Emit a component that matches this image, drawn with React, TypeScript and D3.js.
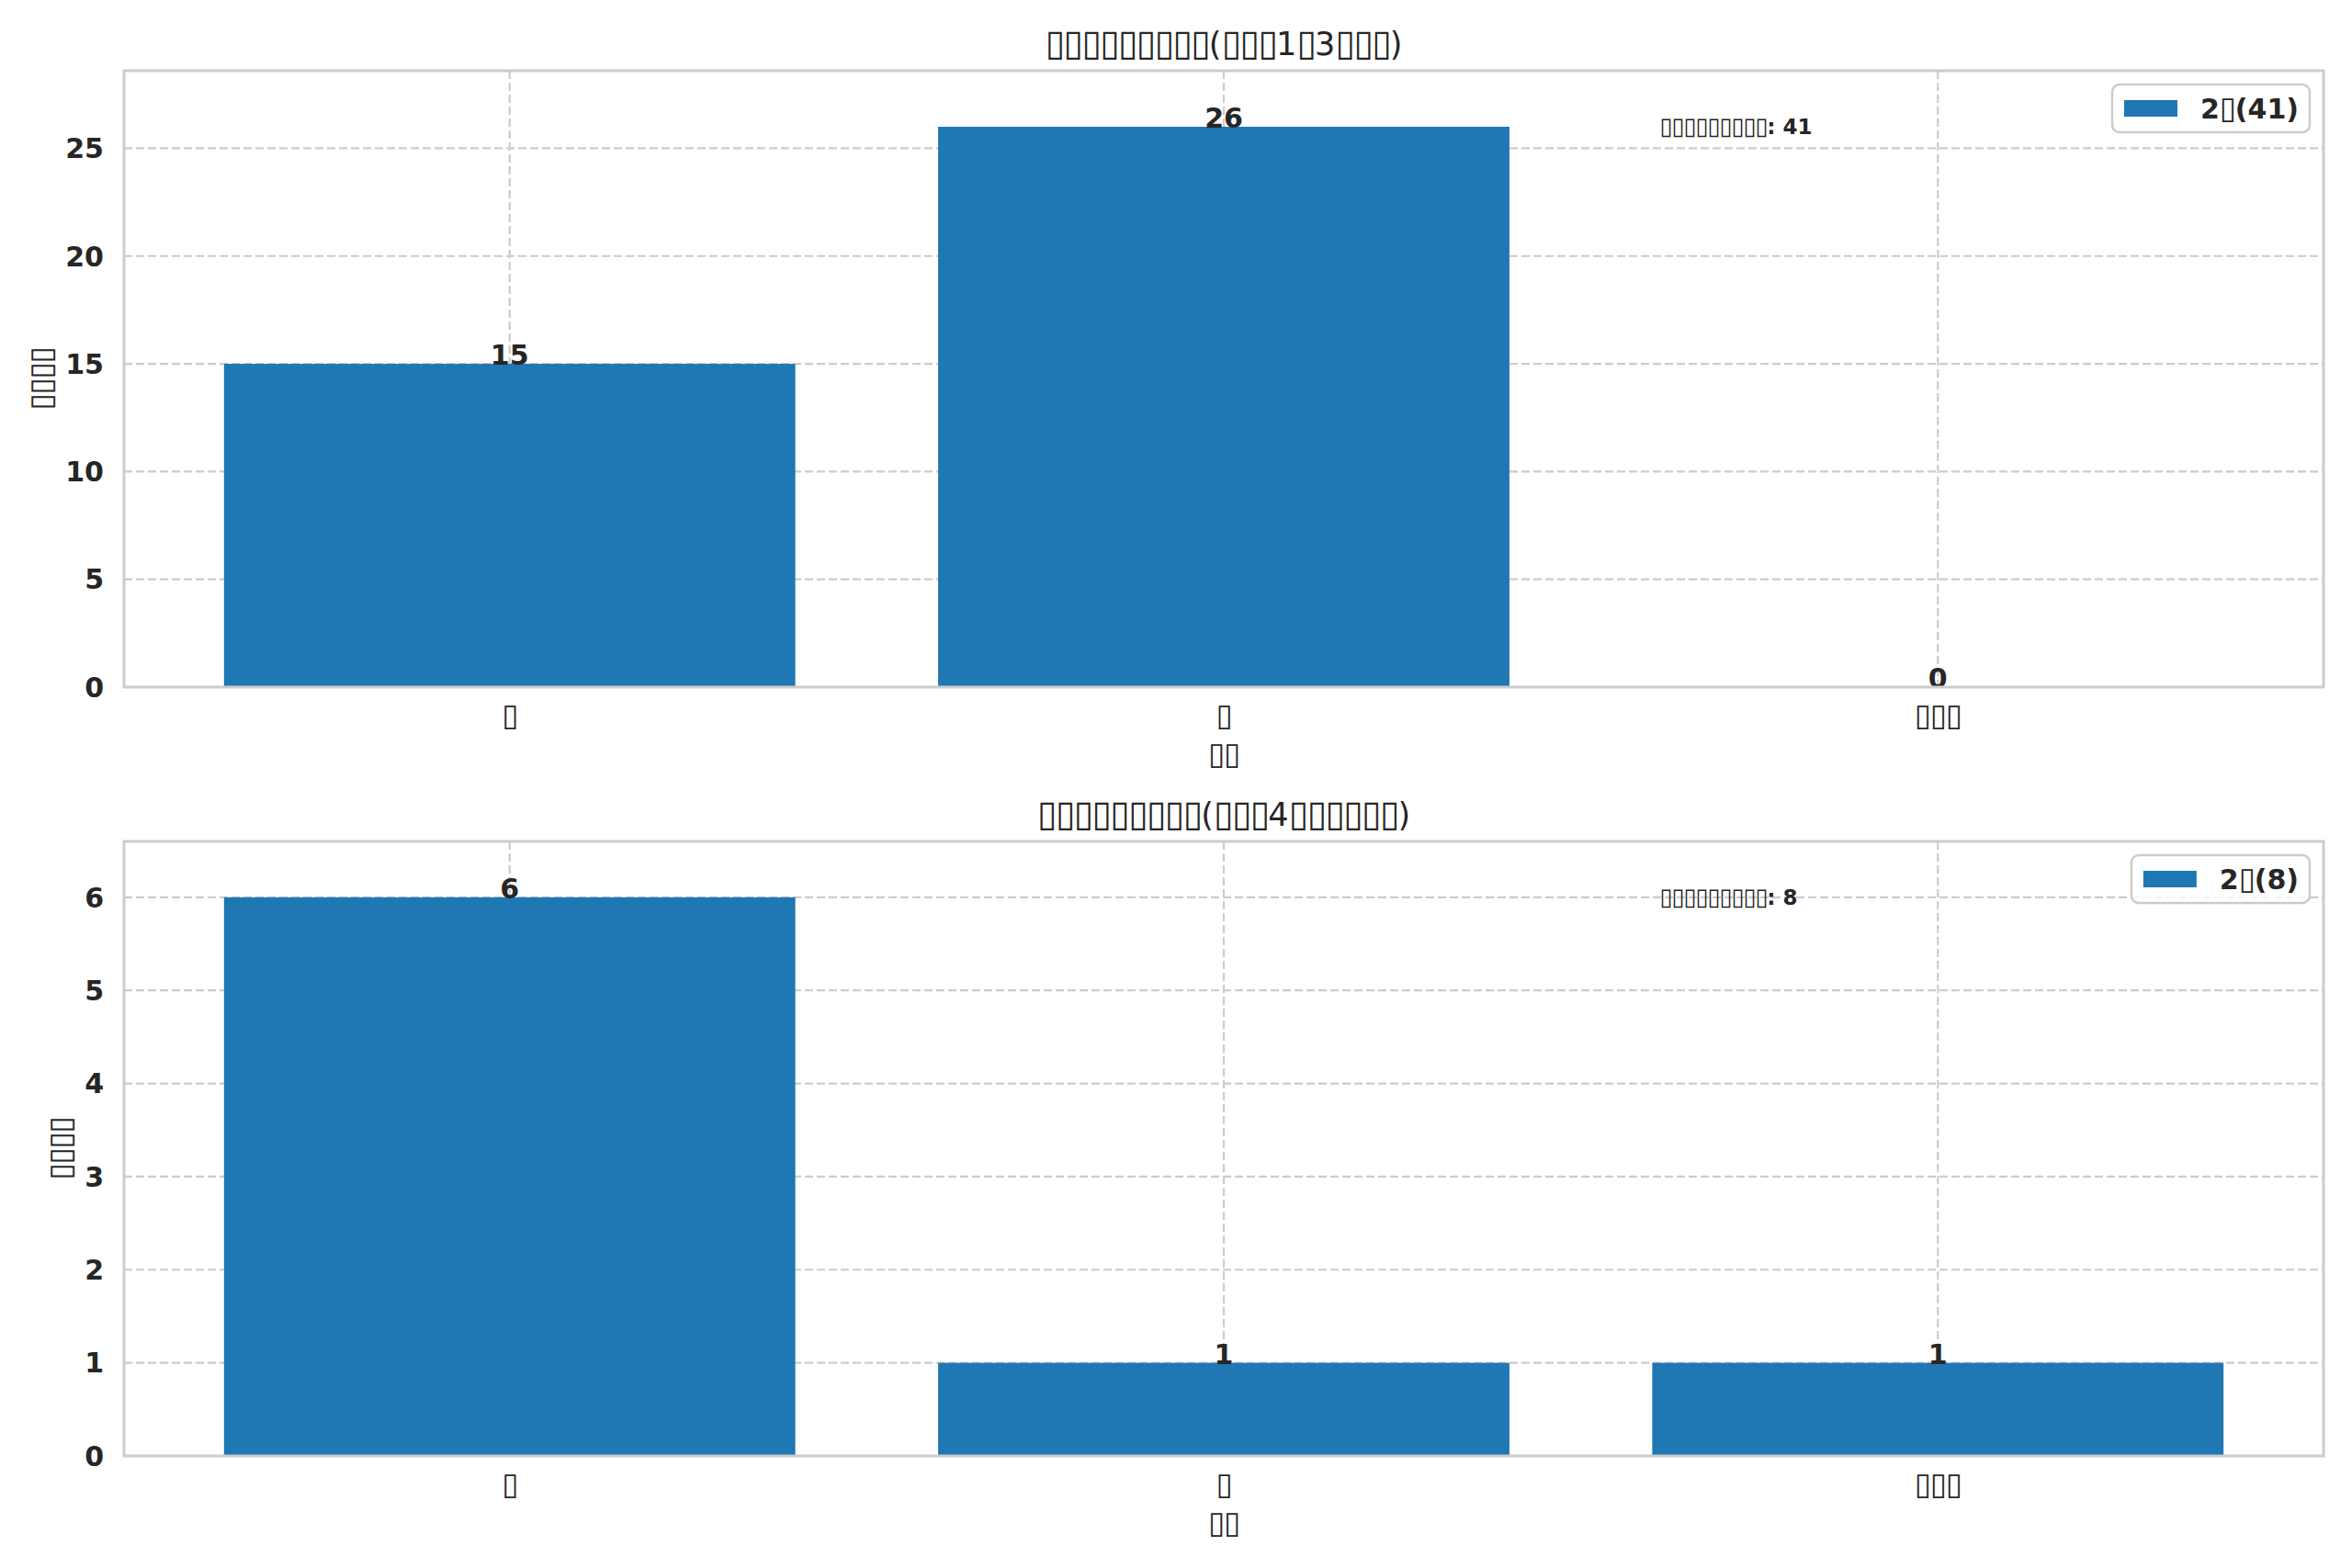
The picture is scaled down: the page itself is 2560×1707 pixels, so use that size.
import { useRef, useEffect } from "react";
import * as d3 from "d3";

// Labels came out as missing-glyph boxes in the original render, kept as box characters.
const CATEGORIES = ["▯", "▯", "▯▯▯"];
const CLASS_1_3 = [15, 26, 0];
const CLASS_4 = [6, 1, 1];
const TITLES = ["▯▯▯▯▯▯▯▯▯(▯▯▯1▯3▯▯▯)", "▯▯▯▯▯▯▯▯▯(▯▯▯4▯▯▯▯▯▯)"];
const LEGEND_PREFIX = "2▯";
const TOTAL_PREFIX = "▯▯▯▯▯▯▯▯▯";
const Y_TICKS_TOP = [0, 5, 10, 15, 20, 25];
const Y_TICKS_BOTTOM = [0, 1, 2, 3, 4, 5, 6];
const X_LABEL = "▯▯";
const Y_LABEL = "▯▯▯▯";

const WIDTH = 2560;
const HEIGHT = 1707;
const PANELS = [
  { values: CLASS_1_3, ticks: Y_TICKS_TOP, title: TITLES[0], top: 77, bottom: 748 },
  { values: CLASS_4, ticks: Y_TICKS_BOTTOM, title: TITLES[1], top: 916, bottom: 1585 },
];
const LEFT = 135;
const RIGHT = 2529;

const BAR = "#1f77b4";
const INK = "#262626";
const LIGHT = "#cccccc";
const FONT = "'DejaVu Sans', sans-serif";

// boxes are drawn a bit larger, with tightened spacing, to look like the tofu glyphs
const BOX_SCALE = 1.12;
const BOX_SPACING = -0.05;

function boxText(
  sel: d3.Selection<SVGTextElement, unknown, null, undefined>,
  str: string,
  size: number
) {
  const runs = str.match(/▯+|[^▯]+/g) || [];
  runs.forEach((r) => {
    const t = sel.append("tspan").text(r);
    if (r[0] === "▯") {
      t.attr("font-size", size * BOX_SCALE)
        .attr("font-weight", "normal")
        .style("letter-spacing", `${BOX_SPACING * size}px`);
    }
  });
}

export default function App() {
  const svgRef = useRef<SVGSVGElement>(null);

  useEffect(() => {
    document.body.style.margin = "0";
    if (!svgRef.current) return;
    const svg = d3.select(svgRef.current);
    svg.selectAll("*").remove();

    svg.append("rect").attr("width", WIDTH).attr("height", HEIGHT).attr("fill", "#fff");

    const x = d3.scaleLinear().domain([-0.54, CATEGORIES.length - 1 + 0.54]).range([LEFT, RIGHT]);
    const barW = x(0.8) - x(0);

    PANELS.forEach((p) => {
      const maxV = d3.max(p.values) as number;
      const y = d3.scaleLinear().domain([0, maxV * 1.1]).range([p.bottom, p.top]);
      const g = svg.append("g").attr("font-family", FONT).attr("fill", INK);

      // grid
      g.selectAll(".hgrid")
        .data(p.ticks)
        .join("line")
        .attr("x1", LEFT).attr("x2", RIGHT)
        .attr("y1", (d) => y(d)).attr("y2", (d) => y(d))
        .attr("stroke", LIGHT).attr("stroke-width", 2.2).attr("stroke-dasharray", "9,4");
      g.selectAll(".vgrid")
        .data(CATEGORIES)
        .join("line")
        .attr("x1", (_d, i) => x(i)).attr("x2", (_d, i) => x(i))
        .attr("y1", p.top).attr("y2", p.bottom)
        .attr("stroke", LIGHT).attr("stroke-width", 2.2).attr("stroke-dasharray", "9,4");

      // bars
      g.selectAll(".bar")
        .data(p.values)
        .join("rect")
        .attr("x", (_d, i) => x(i) - barW / 2)
        .attr("width", barW)
        .attr("y", (d) => y(d))
        .attr("height", (d) => p.bottom - y(d))
        .attr("fill", BAR);

      // value labels
      g.selectAll(".val")
        .data(p.values)
        .join("text")
        .attr("x", (_d, i) => x(i))
        .attr("y", (d) => y(d) + 1)
        .attr("text-anchor", "middle")
        .attr("font-size", 30)
        .attr("font-weight", "bold")
        .text((d) => d);

      // spines
      g.append("rect")
        .attr("x", LEFT).attr("y", p.top)
        .attr("width", RIGHT - LEFT).attr("height", p.bottom - p.top)
        .attr("fill", "none").attr("stroke", LIGHT).attr("stroke-width", 3);

      // y ticks
      const yt = g.selectAll(".yt")
        .data(p.ticks)
        .join("text")
        .attr("x", LEFT - 22)
        .attr("y", (d) => y(d))
        .attr("dy", "0.36em")
        .attr("text-anchor", "end")
        .attr("font-size", 30)
        .attr("font-weight", "bold")
        .text((d) => d);
      let tickW = 0;
      yt.each(function () {
        tickW = Math.max(tickW, (this as SVGTextElement).getComputedTextLength());
      });

      // x ticks
      CATEGORIES.forEach((c, i) => {
        const t = g.append("text")
          .attr("x", x(i))
          .attr("y", p.bottom + 42)
          .attr("text-anchor", "middle")
          .attr("font-size", 30);
        boxText(t, c, 30);
      });

      // axis labels
      const xl = g.append("text")
        .attr("x", x(1))
        .attr("y", p.bottom + 84)
        .attr("text-anchor", "middle")
        .attr("font-size", 30);
      boxText(xl, X_LABEL, 30);
      const ylx = LEFT - 22 - tickW - 10 - 16;
      const yl = g.append("text")
        .attr("transform", `translate(${ylx},${(p.top + p.bottom) / 2}) rotate(-90)`)
        .attr("dy", "0.36em")
        .attr("text-anchor", "middle")
        .attr("font-size", 30);
      boxText(yl, Y_LABEL, 30);

      // title
      const tt = g.append("text")
        .attr("x", (LEFT + RIGHT) / 2)
        .attr("y", p.top - 17)
        .attr("text-anchor", "middle")
        .attr("font-size", 35);
      boxText(tt, p.title, 35);

      // total annotation
      const total = d3.sum(p.values);
      const an = g.append("text")
        .attr("x", x(1.61))
        .attr("y", y(maxV))
        .attr("dy", "0.36em")
        .attr("font-size", 23)
        .attr("font-weight", "bold");
      boxText(an, `${TOTAL_PREFIX}: ${total}`, 23);

      // legend
      const lg = g.append("g");
      const frame = lg.append("rect")
        .attr("fill", "#fff").attr("fill-opacity", 0.8)
        .attr("stroke", LIGHT).attr("stroke-width", 2.5).attr("rx", 8);
      const label = lg.append("text")
        .attr("font-size", 30)
        .attr("font-weight", "bold");
      boxText(label, `${LEGEND_PREFIX}(${total})`, 30);
      const textW = (label.node() as SVGTextElement).getComputedTextLength();
      const boxH = 52;
      const boxW = 12 + 60 + 24 + textW + 12;
      const bx = RIGHT - 15 - boxW;
      const by = p.top + 15;
      frame.attr("x", bx).attr("y", by).attr("width", boxW).attr("height", boxH);
      lg.append("rect")
        .attr("x", bx + 13).attr("y", by + boxH / 2 - 9)
        .attr("width", 58).attr("height", 18)
        .attr("fill", BAR);
      label.attr("x", bx + 12 + 60 + 24).attr("y", by + boxH / 2).attr("dy", "0.36em");
    });
  }, []);

  return <svg ref={svgRef} width={WIDTH} height={HEIGHT} viewBox={`0 0 ${WIDTH} ${HEIGHT}`} style={{ display: "block" }} />;
}
